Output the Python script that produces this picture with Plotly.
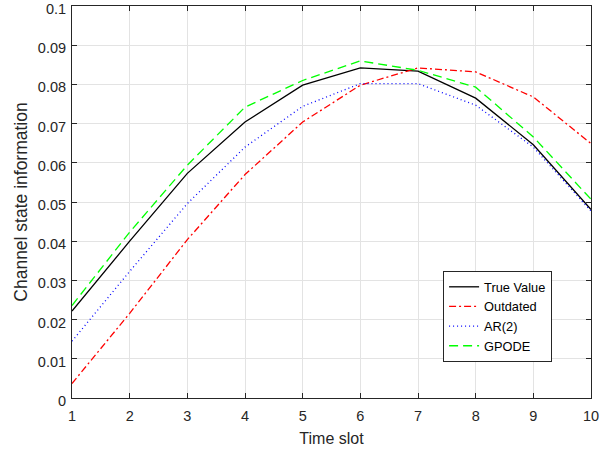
import plotly.graph_objects as go

time_slot = [1, 2, 3, 4, 5, 6, 7, 8, 9, 10]
true_value = [0.0222, 0.0400, 0.0573, 0.0704, 0.0798, 0.0842, 0.0834, 0.0765, 0.0646, 0.0481]
outdated = [0.0037, 0.0216, 0.0404, 0.0570, 0.0704, 0.0798, 0.0842, 0.0832, 0.0768, 0.0649]
ar2 = [0.0145, 0.0323, 0.0496, 0.0640, 0.0744, 0.0802, 0.0802, 0.0747, 0.0640, 0.0477]
gpode = [0.0236, 0.0423, 0.0594, 0.0742, 0.0810, 0.0860, 0.0836, 0.0793, 0.0666, 0.0507]

y_ticks = [0, 0.01, 0.02, 0.03, 0.04, 0.05, 0.06, 0.07, 0.08, 0.09, 0.1]
y_tick_labels = ["0", "0.01", "0.02", "0.03", "0.04", "0.05", "0.06", "0.07", "0.08", "0.09", "0.1"]

fig = go.Figure()
fig.add_trace(go.Scatter(x=time_slot, y=true_value, mode="lines", name="True Value",
                         line=dict(color="black", width=1.3, dash="solid")))
fig.add_trace(go.Scatter(x=time_slot, y=outdated, mode="lines", name="Outdated",
                         line=dict(color="red", width=1.3, dash="7px,3px,2px,3px")))
fig.add_trace(go.Scatter(x=time_slot, y=ar2, mode="lines", name="AR(2)",
                         line=dict(color="blue", width=1.3, dash="1px,3px")))
fig.add_trace(go.Scatter(x=time_slot, y=gpode, mode="lines", name="GPODE",
                         line=dict(color="#00ff00", width=1.3, dash="9px,5px")))

axis_common = dict(
    showline=True, linecolor="#262626", linewidth=1, mirror="ticks",
    ticks="inside", ticklen=5, tickcolor="#262626",
    showgrid=True, gridcolor="#e3e3e3", gridwidth=1,
    zeroline=False, automargin=False, ticklabeloverflow="allow",
    tickfont=dict(family="Liberation Sans, Arial", size=14.5, color="#262626"),
)

fig.update_layout(
    width=615, height=451,
    margin=dict(l=72, r=24, t=6, b=53),
    paper_bgcolor="white", plot_bgcolor="white",
    font=dict(family="Liberation Sans, Arial", size=13, color="#262626"),
    xaxis=dict(range=[1, 10], tickvals=time_slot, ticklabelstandoff=5,
               title=dict(text="Time slot", font=dict(size=16), standoff=9), **axis_common),
    yaxis=dict(range=[0, 0.1], tickvals=y_ticks, ticktext=y_tick_labels, ticklabelstandoff=2,
               ticklabelshift=3,
               title=dict(text="Channel state information", font=dict(size=17.5), standoff=5), **axis_common),
    legend=dict(x=0.715, y=0.324, xanchor="left", yanchor="top",
                bgcolor="white", bordercolor="#262626", borderwidth=1,
                font=dict(size=12.8, color="black"), tracegroupgap=0,
                itemwidth=30),
    showlegend=True,
)

fig.write_html("out.html", config={"displayModeBar": False},
               post_script="document.body.style.margin='0';")
